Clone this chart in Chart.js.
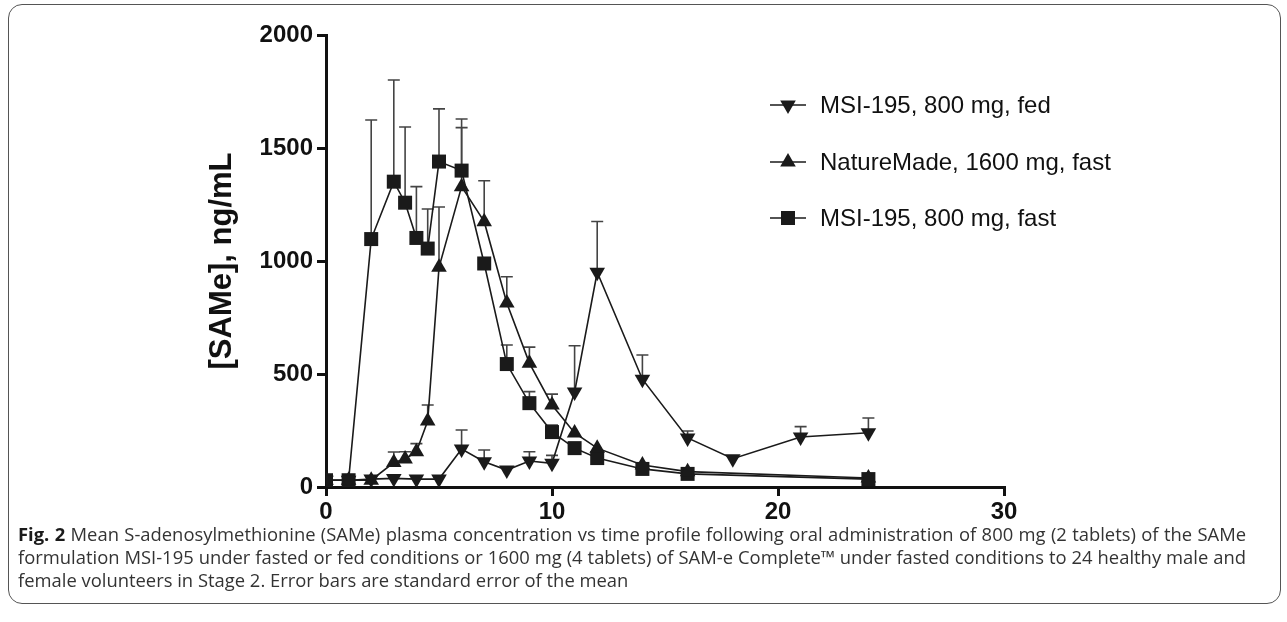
<!DOCTYPE html>
<html>
<head>
<meta charset="utf-8">
<script src="https://cdn.jsdelivr.net/npm/chart.js@4.4.1/dist/chart.umd.min.js"></script>
<style>
html, body { margin:0; padding:0; background:#fff; }
body { width:1287px; height:622px; position:relative; overflow:hidden; }
#frame { position:absolute; left:8px; top:4px; width:1273px; height:600px; border:1.5px solid #555; border-radius:14px; box-sizing:border-box; }
#plot { position:absolute; left:0; top:0; }
#caption { position:absolute; left:18px; top:522px; width:1228px; font-family:"Open Sans", sans-serif; font-size:18.4px; line-height:23px; color:#333; text-align:justify; }
#caption b { color:#1a1a1a; }
</style>
</head>
<body>
<div id="frame"></div>
<canvas id="plot" width="1287" height="525"></canvas>
<div id="caption"><b>Fig. 2</b> Mean S-adenosylmethionine (SAMe) plasma concentration vs time profile following oral administration of 800 mg (2 tablets) of the SAMe formulation MSI-195 under fasted or fed conditions or 1600 mg (4 tablets) of SAM-e Complete™ under fasted conditions to 24 healthy male and female volunteers in Stage 2. Error bars are standard error of the mean</div>
<script>
// sampling times (h)
const fedTimes = [0, 1, 2, 3, 4, 5, 6, 7, 8, 9, 10, 11, 12, 14, 16, 18, 21, 24];
const fastTimes = [0, 1, 2, 3, 3.5, 4, 4.5, 5, 6, 7, 8, 9, 10, 11, 12, 14, 16, 24];

// mean SAMe, ng/mL and SEM
const fedMean = [30, 30, 35, 38, 35, 35, 168, 112, 75, 115, 105, 420, 950, 477, 217, 125, 221, 240];
const fedSem  = [0, 0, 0, 0, 0, 0, 84, 52, 0, 41, 35, 205, 225, 107, 31, 0, 46, 65];
const natureMean = [30, 30, 30, 108, 124, 156, 292, 972, 1329, 1174, 814, 548, 363, 239, 172, 97, 68, 40];
const natureSem  = [0, 0, 0, 47, 32, 36, 71, 267, 261, 181, 116, 71, 48, 0, 0, 0, 0, 0];
const fastMean = [30, 30, 1097, 1351, 1258, 1102, 1055, 1440, 1400, 989, 544, 371, 243, 172, 128, 80, 58, 35];
const fastSem  = [0, 0, 527, 450, 335, 227, 175, 233, 228, 0, 84, 51, 31, 0, 0, 0, 0, 0];

const seriesLabels = ['MSI-195, 800 mg, fed', 'NatureMade, 1600 mg, fast', 'MSI-195, 800 mg, fast'];
const xTicks = [0, 10, 20, 30];
const yTicks = [0, 500, 1000, 1500, 2000];

const ink = '#1a1a1a';

function pts(times, vals) {
  return times.map((t, i) => ({x: t, y: vals[i]}));
}

// upper-only error bars, like the prism original
const errorBars = {
  id: 'errorBars',
  beforeDatasetsDraw(chart) {
    const ctx = chart.ctx, xs = chart.scales.x, ys = chart.scales.y;
    ctx.save();
    ctx.strokeStyle = '#444';
    ctx.lineWidth = 1.6;
    chart.data.datasets.forEach(ds => {
      ds.data.forEach((p, i) => {
        const e = ds.sem[i];
        if (!e) return;
        const px = xs.getPixelForValue(p.x);
        const y0 = ys.getPixelForValue(p.y);
        const y1 = ys.getPixelForValue(p.y + e);
        ctx.beginPath();
        ctx.moveTo(px, y0); ctx.lineTo(px, y1);
        ctx.moveTo(px - 6, y1); ctx.lineTo(px + 6, y1);
        ctx.stroke();
      });
    });
    ctx.restore();
  }
};

// legend inside the plot, right side
const boxLegend = {
  id: 'boxLegend',
  afterDraw(chart) {
    const ctx = chart.ctx;
    const rows = [105, 162, 218];
    ctx.save();
    chart.data.datasets.forEach((ds, i) => {
      const y = rows[i], cx = 788;
      ctx.strokeStyle = ink; ctx.lineWidth = 1.6;
      ctx.beginPath(); ctx.moveTo(cx - 18, y); ctx.lineTo(cx + 18, y); ctx.stroke();
      ctx.fillStyle = ink;
      ctx.beginPath();
      if (ds.pointStyle === 'rect') {
        ctx.rect(cx - 7, y - 7, 14, 14);
      } else {
        const r = 9, dir = ds.pointRotation === 180 ? -1 : 1;
        ctx.moveTo(cx, y - dir * r);
        ctx.lineTo(cx - r * 0.866, y + dir * r * 0.5);
        ctx.lineTo(cx + r * 0.866, y + dir * r * 0.5);
        ctx.closePath();
      }
      ctx.fill();
      ctx.font = '24px "Liberation Sans", Arial, sans-serif';
      ctx.textBaseline = 'middle';
      ctx.fillStyle = '#111';
      ctx.fillText(ds.label, 820, y + 1);
    });
    ctx.restore();
  }
};

const tickFont = {family: '"Liberation Sans", Arial, sans-serif', size: 24, weight: 'bold'};

new Chart(document.getElementById('plot'), {
  type: 'scatter',
  data: {
    datasets: [
      {label: seriesLabels[0], data: pts(fedTimes, fedMean), sem: fedSem,
       pointStyle: 'triangle', pointRotation: 180, pointRadius: 9},
      {label: seriesLabels[1], data: pts(fastTimes, natureMean), sem: natureSem,
       pointStyle: 'triangle', pointRadius: 9},
      {label: seriesLabels[2], data: pts(fastTimes, fastMean), sem: fastSem,
       pointStyle: 'rect', pointRadius: 9.9}
    ].map(d => Object.assign(d, {
      showLine: true, borderColor: ink, borderWidth: 1.6,
      backgroundColor: ink, pointBackgroundColor: ink, pointBorderWidth: 0,
      pointHoverRadius: d.pointRadius
    }))
  },
  options: {
    responsive: false,
    animation: false,
    layout: {padding: {left: 204, top: 35, right: 283, bottom: 0}},
    plugins: {legend: {display: false}, tooltip: {enabled: false}},
    scales: {
      x: {
        type: 'linear', min: 0, max: 30,
        afterBuildTicks: s => { s.ticks = xTicks.map(v => ({value: v})); },
        afterFit: s => { s.height = 38; },
        ticks: {font: tickFont, color: '#111', padding: 2, callback: v => String(v)},
        grid: {drawOnChartArea: false, tickLength: 9, lineWidth: 3, color: '#111'},
        border: {width: 3, color: '#111'}
      },
      y: {
        min: 0, max: 2000,
        afterBuildTicks: s => { s.ticks = yTicks.map(v => ({value: v})); },
        afterFit: s => { s.width = 122; },
        ticks: {font: tickFont, color: '#111', padding: 4, callback: v => String(v)},
        grid: {drawOnChartArea: false, tickLength: 9, lineWidth: 3, color: '#111'},
        border: {width: 3, color: '#111'},
        title: {display: true, text: '[SAMe], ng/mL', color: '#111', padding: 0,
                font: {family: '"Liberation Sans", Arial, sans-serif', size: 31, weight: 'bold'}}
      }
    }
  },
  plugins: [errorBars, boxLegend]
});
</script>
</body>
</html>
